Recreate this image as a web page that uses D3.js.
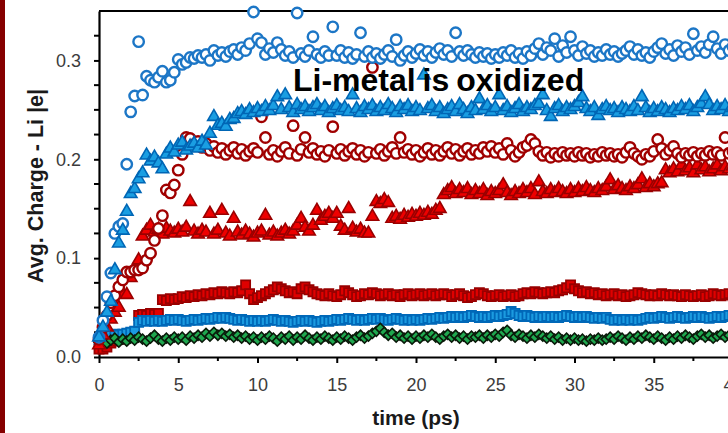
<!DOCTYPE html>
<html>
<head>
<meta charset="utf-8">
<script src="https://cdn.jsdelivr.net/npm/d3@7"></script>
<style>
  html, body { margin: 0; padding: 0; background: #fff; }
  svg { display: block; }
</style>
</head>
<body>
<svg id="chart" width="728" height="433"></svg>
<script>
// ---------------- DATA ----------------
const timeStep = 0.25; // ps between samples, first sample at t = 0
const xTickValues = [0, 5, 10, 15, 20, 25, 30, 35, 40];
const xTickLabels = ["0", "5", "10", "15", "20", "25", "30", "35", "40"];
const yTickValues = [0, 0.1, 0.2, 0.3];
const yTickLabels = ["0.0", "0.1", "0.2", "0.3"];
const annotation = "Li-metal is oxidized";
const xTitle = "time (ps)";
const yTitle = "Avg. Charge - Li |e|";

// blue open circles
const blueCircles = [
  0.02,0.037,0.061,0.085,0.125,0.132,0.135,0.195,0.248,0.264,0.319,0.265,0.284,0.28,0.278,0.283,0.289,0.278,0.28,0.288,
  0.301,0.296,0.298,0.303,0.302,0.305,0.303,0.306,0.3,0.31,0.305,0.308,0.304,0.309,0.311,0.306,0.313,0.31,0.317,0.349,
  0.322,0.318,0.306,0.312,0.308,0.318,0.311,0.305,0.309,0.303,0.348,0.307,0.304,0.31,0.324,0.306,0.303,0.309,0.305,0.334,
  0.305,0.31,0.303,0.308,0.302,0.306,0.328,0.304,0.309,0.303,0.307,0.302,0.306,0.31,0.304,0.321,0.3,0.305,0.309,0.303,
  0.307,0.311,0.305,0.309,0.303,0.308,0.312,0.306,0.31,0.304,0.328,0.309,0.305,0.31,0.306,0.303,0.308,0.304,0.307,0.302,
  0.306,0.303,0.308,0.305,0.31,0.303,0.307,0.302,0.309,0.305,0.312,0.317,0.306,0.313,0.31,0.322,0.304,0.315,0.308,0.324,
  0.31,0.305,0.314,0.307,0.31,0.304,0.308,0.305,0.311,0.306,0.309,0.304,0.307,0.31,0.314,0.306,0.311,0.305,0.308,0.303,
  0.309,0.313,0.317,0.307,0.311,0.305,0.315,0.309,0.313,0.306,0.327,0.31,0.314,0.308,0.316,0.324,0.312,0.307,0.316,0.31,0.314,0.309,0.312
];
// blue filled triangles
const blueTriangles = [
  0.02,0.03,0.045,0.056,0.088,0.115,0.128,0.147,0.165,0.17,0.18,0.186,0.204,0.198,0.202,0.196,0.19,0.205,0.211,0.207,
  0.214,0.217,0.209,0.213,0.216,0.211,0.218,0.214,0.226,0.243,0.234,0.236,0.233,0.24,0.241,0.246,0.248,0.245,0.25,0.247,
  0.251,0.248,0.253,0.249,0.254,0.263,0.25,0.265,0.252,0.247,0.255,0.25,0.253,0.248,0.252,0.255,0.249,0.253,0.247,0.251,
  0.254,0.249,0.252,0.248,0.265,0.251,0.247,0.253,0.25,0.254,0.248,0.252,0.249,0.255,0.251,0.247,0.253,0.25,0.254,0.248,
  0.252,0.249,0.285,0.251,0.254,0.248,0.252,0.246,0.25,0.253,0.248,0.255,0.25,0.246,0.252,0.249,0.261,0.25,0.254,0.248,
  0.252,0.265,0.249,0.253,0.247,0.251,0.255,0.248,0.252,0.25,0.254,0.256,0.265,0.249,0.243,0.251,0.254,0.248,0.252,0.25,
  0.253,0.257,0.263,0.251,0.248,0.252,0.244,0.25,0.253,0.249,0.251,0.247,0.252,0.25,0.248,0.253,0.249,0.263,0.252,0.247,
  0.251,0.248,0.252,0.25,0.247,0.251,0.249,0.253,0.25,0.254,0.248,0.252,0.256,0.263,0.255,0.249,0.253,0.25,0.254,0.248,0.252,0.25,0.253
];
// red open circles
const redCircles = [
  0.018,0.03,0.042,0.055,0.062,0.071,0.078,0.086,0.086,0.088,0.088,0.09,0.098,0.105,0.118,0.13,0.143,0.169,0.166,0.174,
  0.189,0.205,0.222,0.221,0.215,0.218,0.212,0.216,0.209,0.213,0.207,0.211,0.205,0.209,0.212,0.206,0.21,0.204,0.208,0.211,
  0.207,0.243,0.222,0.205,0.209,0.203,0.208,0.212,0.206,0.234,0.204,0.21,0.222,0.207,0.211,0.205,0.208,0.203,0.209,0.233,
  0.206,0.21,0.204,0.208,0.211,0.205,0.209,0.203,0.207,0.293,0.206,0.21,0.204,0.208,0.212,0.206,0.222,0.207,0.21,0.205,
  0.209,0.203,0.207,0.211,0.205,0.209,0.204,0.208,0.212,0.206,0.21,0.204,0.208,0.211,0.205,0.209,0.206,0.212,0.208,0.213,
  0.207,0.211,0.205,0.216,0.209,0.203,0.207,0.212,0.214,0.22,0.216,0.208,0.204,0.207,0.202,0.206,0.203,0.207,0.204,0.206,
  0.203,0.207,0.204,0.206,0.202,0.205,0.203,0.207,0.204,0.206,0.203,0.205,0.202,0.207,0.212,0.206,0.203,0.2,0.205,0.203,
  0.208,0.22,0.211,0.205,0.209,0.213,0.206,0.202,0.206,0.204,0.207,0.203,0.206,0.204,0.208,0.205,0.207,0.204,0.222,0.206,0.208,0.205,0.207
];
// red filled triangles
const redTriangles = [
  0.012,0.022,0.03,0.038,0.045,0.05,0.064,0.063,0.08,0.09,0.098,0.122,0.128,0.133,0.126,0.129,0.124,0.13,0.127,0.125,
  0.129,0.126,0.131,0.157,0.127,0.124,0.128,0.126,0.145,0.124,0.128,0.148,0.125,0.122,0.14,0.126,0.123,0.127,0.124,0.121,
  0.125,0.127,0.143,0.123,0.126,0.122,0.125,0.128,0.124,0.127,0.133,0.14,0.131,0.127,0.133,0.148,0.138,0.142,0.145,0.14,
  0.145,0.132,0.128,0.15,0.13,0.126,0.129,0.125,0.125,0.142,0.157,0.155,0.159,0.156,0.14,0.142,0.139,0.143,0.141,0.144,
  0.142,0.145,0.143,0.146,0.144,0.148,0.15,0.164,0.168,0.171,0.165,0.169,0.166,0.17,0.164,0.168,0.165,0.169,0.163,0.167,
  0.165,0.168,0.174,0.166,0.163,0.167,0.165,0.169,0.166,0.17,0.164,0.177,0.167,0.165,0.169,0.166,0.17,0.167,0.165,0.169,
  0.166,0.17,0.167,0.171,0.168,0.166,0.17,0.168,0.172,0.179,0.169,0.173,0.17,0.168,0.172,0.17,0.174,0.18,0.171,0.175,
  0.172,0.175,0.176,0.189,0.186,0.19,0.187,0.194,0.188,0.191,0.186,0.194,0.189,0.192,0.187,0.19,0.194,0.188,0.192,0.19,0.193,0.189,0.191
];
// red filled squares
const redSquares = [
  0.008,0.008,0.01,0.014,0.016,0.018,0.019,0.02,0.021,0.022,0.042,0.043,0.042,0.044,0.043,0.044,0.058,0.057,0.059,0.058,
  0.059,0.061,0.06,0.062,0.061,0.063,0.062,0.064,0.063,0.065,0.064,0.066,0.065,0.064,0.066,0.065,0.067,0.073,0.064,0.058,
  0.06,0.062,0.064,0.066,0.068,0.071,0.069,0.067,0.065,0.066,0.064,0.069,0.071,0.068,0.066,0.064,0.063,0.062,0.064,0.062,
  0.061,0.063,0.067,0.065,0.063,0.061,0.062,0.064,0.063,0.065,0.064,0.062,0.063,0.064,0.062,0.063,0.061,0.063,0.064,0.062,
  0.063,0.064,0.062,0.063,0.064,0.062,0.063,0.064,0.063,0.061,0.063,0.064,0.062,0.06,0.061,0.063,0.065,0.064,0.062,0.061,
  0.062,0.063,0.061,0.062,0.063,0.061,0.062,0.064,0.065,0.064,0.066,0.065,0.064,0.065,0.066,0.065,0.067,0.068,0.07,0.073,
  0.069,0.067,0.065,0.066,0.064,0.065,0.063,0.064,0.062,0.063,0.064,0.062,0.063,0.061,0.062,0.063,0.065,0.064,0.063,0.062,
  0.063,0.062,0.064,0.063,0.062,0.063,0.062,0.061,0.063,0.062,0.061,0.062,0.063,0.061,0.062,0.064,0.063,0.062,0.063,0.064,0.062,0.063,0.062
];
// blue filled squares
const blueSquares = [
  0.018,0.02,0.021,0.022,0.023,0.022,0.023,0.024,0.025,0.026,0.035,0.037,0.036,0.037,0.036,0.037,0.036,0.037,0.038,0.037,
  0.038,0.037,0.036,0.037,0.038,0.037,0.038,0.039,0.038,0.039,0.04,0.039,0.04,0.039,0.038,0.037,0.038,0.037,0.036,0.037,
  0.036,0.037,0.036,0.037,0.038,0.037,0.036,0.037,0.036,0.035,0.036,0.037,0.036,0.037,0.036,0.035,0.036,0.037,0.036,0.037,
  0.038,0.037,0.038,0.039,0.038,0.037,0.038,0.037,0.038,0.039,0.038,0.039,0.038,0.037,0.038,0.039,0.038,0.037,0.038,0.037,
  0.038,0.037,0.038,0.039,0.038,0.039,0.04,0.039,0.04,0.041,0.04,0.041,0.04,0.041,0.042,0.041,0.04,0.041,0.04,0.041,
  0.042,0.041,0.042,0.043,0.046,0.044,0.042,0.041,0.042,0.041,0.04,0.041,0.04,0.041,0.04,0.041,0.04,0.041,0.042,0.041,
  0.04,0.041,0.04,0.041,0.04,0.039,0.04,0.039,0.04,0.038,0.037,0.038,0.037,0.038,0.037,0.038,0.037,0.038,0.039,0.04,
  0.039,0.04,0.041,0.04,0.039,0.04,0.041,0.04,0.039,0.04,0.041,0.04,0.041,0.04,0.039,0.04,0.041,0.04,0.041,0.042,0.041,0.04,0.041
];
// green diamonds
const greenDiamonds = [
  0.015,0.018,0.014,0.017,0.019,0.015,0.018,0.016,0.019,0.017,0.02,0.018,0.016,0.019,0.022,0.018,0.016,0.019,0.017,0.02,
  0.018,0.02,0.017,0.021,0.019,0.022,0.02,0.024,0.021,0.025,0.022,0.024,0.021,0.023,0.02,0.022,0.019,0.021,0.018,0.02,
  0.017,0.02,0.018,0.021,0.019,0.016,0.02,0.018,0.021,0.017,0.02,0.018,0.022,0.019,0.017,0.02,0.018,0.021,0.019,0.017,
  0.02,0.018,0.021,0.019,0.017,0.02,0.022,0.019,0.021,0.024,0.026,0.029,0.025,0.022,0.024,0.02,0.022,0.019,0.021,0.018,
  0.021,0.019,0.022,0.02,0.023,0.02,0.018,0.021,0.023,0.02,0.022,0.019,0.021,0.018,0.021,0.02,0.022,0.019,0.022,0.02,
  0.023,0.021,0.025,0.027,0.022,0.02,0.023,0.021,0.019,0.022,0.02,0.023,0.021,0.019,0.021,0.018,0.02,0.017,0.019,0.017,
  0.019,0.017,0.018,0.016,0.018,0.017,0.019,0.017,0.018,0.02,0.018,0.021,0.019,0.017,0.02,0.018,0.021,0.019,0.022,0.02,
  0.018,0.021,0.019,0.017,0.02,0.018,0.021,0.019,0.022,0.02,0.018,0.021,0.023,0.02,0.022,0.019,0.021,0.023,0.02,0.022,0.019,0.021,0.02
];

// ---------------- CHART ----------------
const W = 728, H = 433;
const svg = d3.select("#chart");
const x = d3.scaleLinear().domain([0, 40]).range([99, 733]);
const y = d3.scaleLinear().domain([0, 0.35]).range([357, 11]);

// dark red strip at left
svg.append("rect").attr("x", 0).attr("y", 0).attr("width", 5).attr("height", H).attr("fill", "#860000");

const labelFont = "'Liberation Sans', Arial, sans-serif";

// x axis
const xAxis = svg.append("g").attr("transform", `translate(0,${y(0)})`)
  .call(d3.axisBottom(x).tickValues(xTickValues).tickFormat((d, i) => xTickLabels[i])
    .tickSize(6).tickSizeOuter(0).tickPadding(15));
xAxis.select(".domain").attr("stroke", "#000").attr("stroke-width", 2.2);
xAxis.selectAll(".tick line").attr("stroke", "#000").attr("stroke-width", 2);
xAxis.selectAll("text").attr("font-family", labelFont).attr("font-size", 18).attr("fill", "#3c3c3c");
// x minor ticks
const xMinor = d3.range(2.5, 40, 5);
svg.append("g").selectAll("line").data(xMinor).join("line")
  .attr("x1", d => x(d)).attr("x2", d => x(d)).attr("y1", y(0)).attr("y2", y(0) + 4)
  .attr("stroke", "#000").attr("stroke-width", 2);

// y axis
const yAxis = svg.append("g").attr("transform", `translate(${x(0)},0)`)
  .call(d3.axisLeft(y).tickValues(yTickValues).tickFormat((d, i) => yTickLabels[i])
    .tickSize(5).tickSizeOuter(0).tickPadding(13));
yAxis.select(".domain").attr("stroke", "#000").attr("stroke-width", 2.2);
yAxis.selectAll(".tick line").attr("stroke", "#000").attr("stroke-width", 2);
yAxis.selectAll("text").attr("font-family", labelFont).attr("font-size", 18).attr("fill", "#3c3c3c");
const yMinor = [0.025,0.05,0.075,0.125,0.15,0.175,0.225,0.25,0.275,0.325];
svg.append("g").selectAll("line").data(yMinor).join("line")
  .attr("x1", x(0) - 5).attr("x2", x(0)).attr("y1", d => y(d)).attr("y2", d => y(d))
  .attr("stroke", "#000").attr("stroke-width", 2);

// top frame line
svg.append("line").attr("x1", x(0)).attr("x2", x(40)).attr("y1", y(0.35)).attr("y2", y(0.35))
  .attr("stroke", "#000").attr("stroke-width", 2.2);

// titles
svg.append("text").attr("x", (x(0) + x(40)) / 2).attr("y", 425)
  .attr("text-anchor", "middle").attr("font-family", labelFont).attr("font-weight", "bold")
  .attr("font-size", 21).attr("fill", "#1a1a1a").text(xTitle);
svg.append("text").attr("transform", `translate(43,${(y(0) + y(0.35)) / 2 + 2}) rotate(-90)`)
  .attr("text-anchor", "middle").attr("font-family", labelFont).attr("font-weight", "bold")
  .attr("font-size", 21.5).attr("fill", "#1a1a1a").text(yTitle);

// series
const times = d3.range(0, 40.5 + 1e-9, timeStep);
function pts(vals) { return vals.map((v, i) => ({ t: times[i], v })); }

const series = [
  { name: "redSquares",   vals: redSquares,   type: d3.symbolSquare,   size: 82, fill: "#e00000", stroke: "#980000", sw: 1.8, rot: 0 },
  { name: "blueSquares",  vals: blueSquares,  type: d3.symbolSquare,   size: 82, fill: "#1b9be0", stroke: "#0068b8", sw: 1.8, rot: 0 },
  { name: "greenDiamonds",vals: greenDiamonds,type: d3.symbolSquare,   size: 50, fill: "#1fa84f", stroke: "#0a1a0a", sw: 1.6, rot: 45 },
  { name: "redTriangles", vals: redTriangles, type: d3.symbolTriangle, size: 68, fill: "#ee0000", stroke: "#9a0000", sw: 1.6, rot: 0 },
  { name: "redCircles",   vals: redCircles,   type: d3.symbolCircle,   size: 86, fill: "#ffffff", stroke: "#a00000", sw: 2.4, rot: 0 },
  { name: "blueCircles",  vals: blueCircles,  type: d3.symbolCircle,   size: 86, fill: "#ffffff", stroke: "#1c76c6", sw: 2.4, rot: 0 },
  { name: "blueTriangles",vals: blueTriangles,type: d3.symbolTriangle, size: 68, fill: "#1a9ee2", stroke: "#0066b5", sw: 1.6, rot: 0 }
];

series.forEach(s => {
  const path = d3.symbol().type(s.type).size(s.size)();
  svg.append("g").attr("class", s.name).selectAll("path").data(pts(s.vals)).join("path")
    .attr("d", path)
    .attr("transform", d => `translate(${x(d.t)},${y(d.v)}) rotate(${s.rot})`)
    .attr("fill", s.fill).attr("stroke", s.stroke).attr("stroke-width", s.sw);
});

// annotation
svg.append("text").attr("x", 293).attr("y", 91)
  .attr("font-family", "'Liberation Sans', Arial, sans-serif").attr("font-weight", "bold")
  .attr("font-size", 32).attr("word-spacing", -2).attr("fill", "#000").text(annotation);
</script>
</body>
</html>
